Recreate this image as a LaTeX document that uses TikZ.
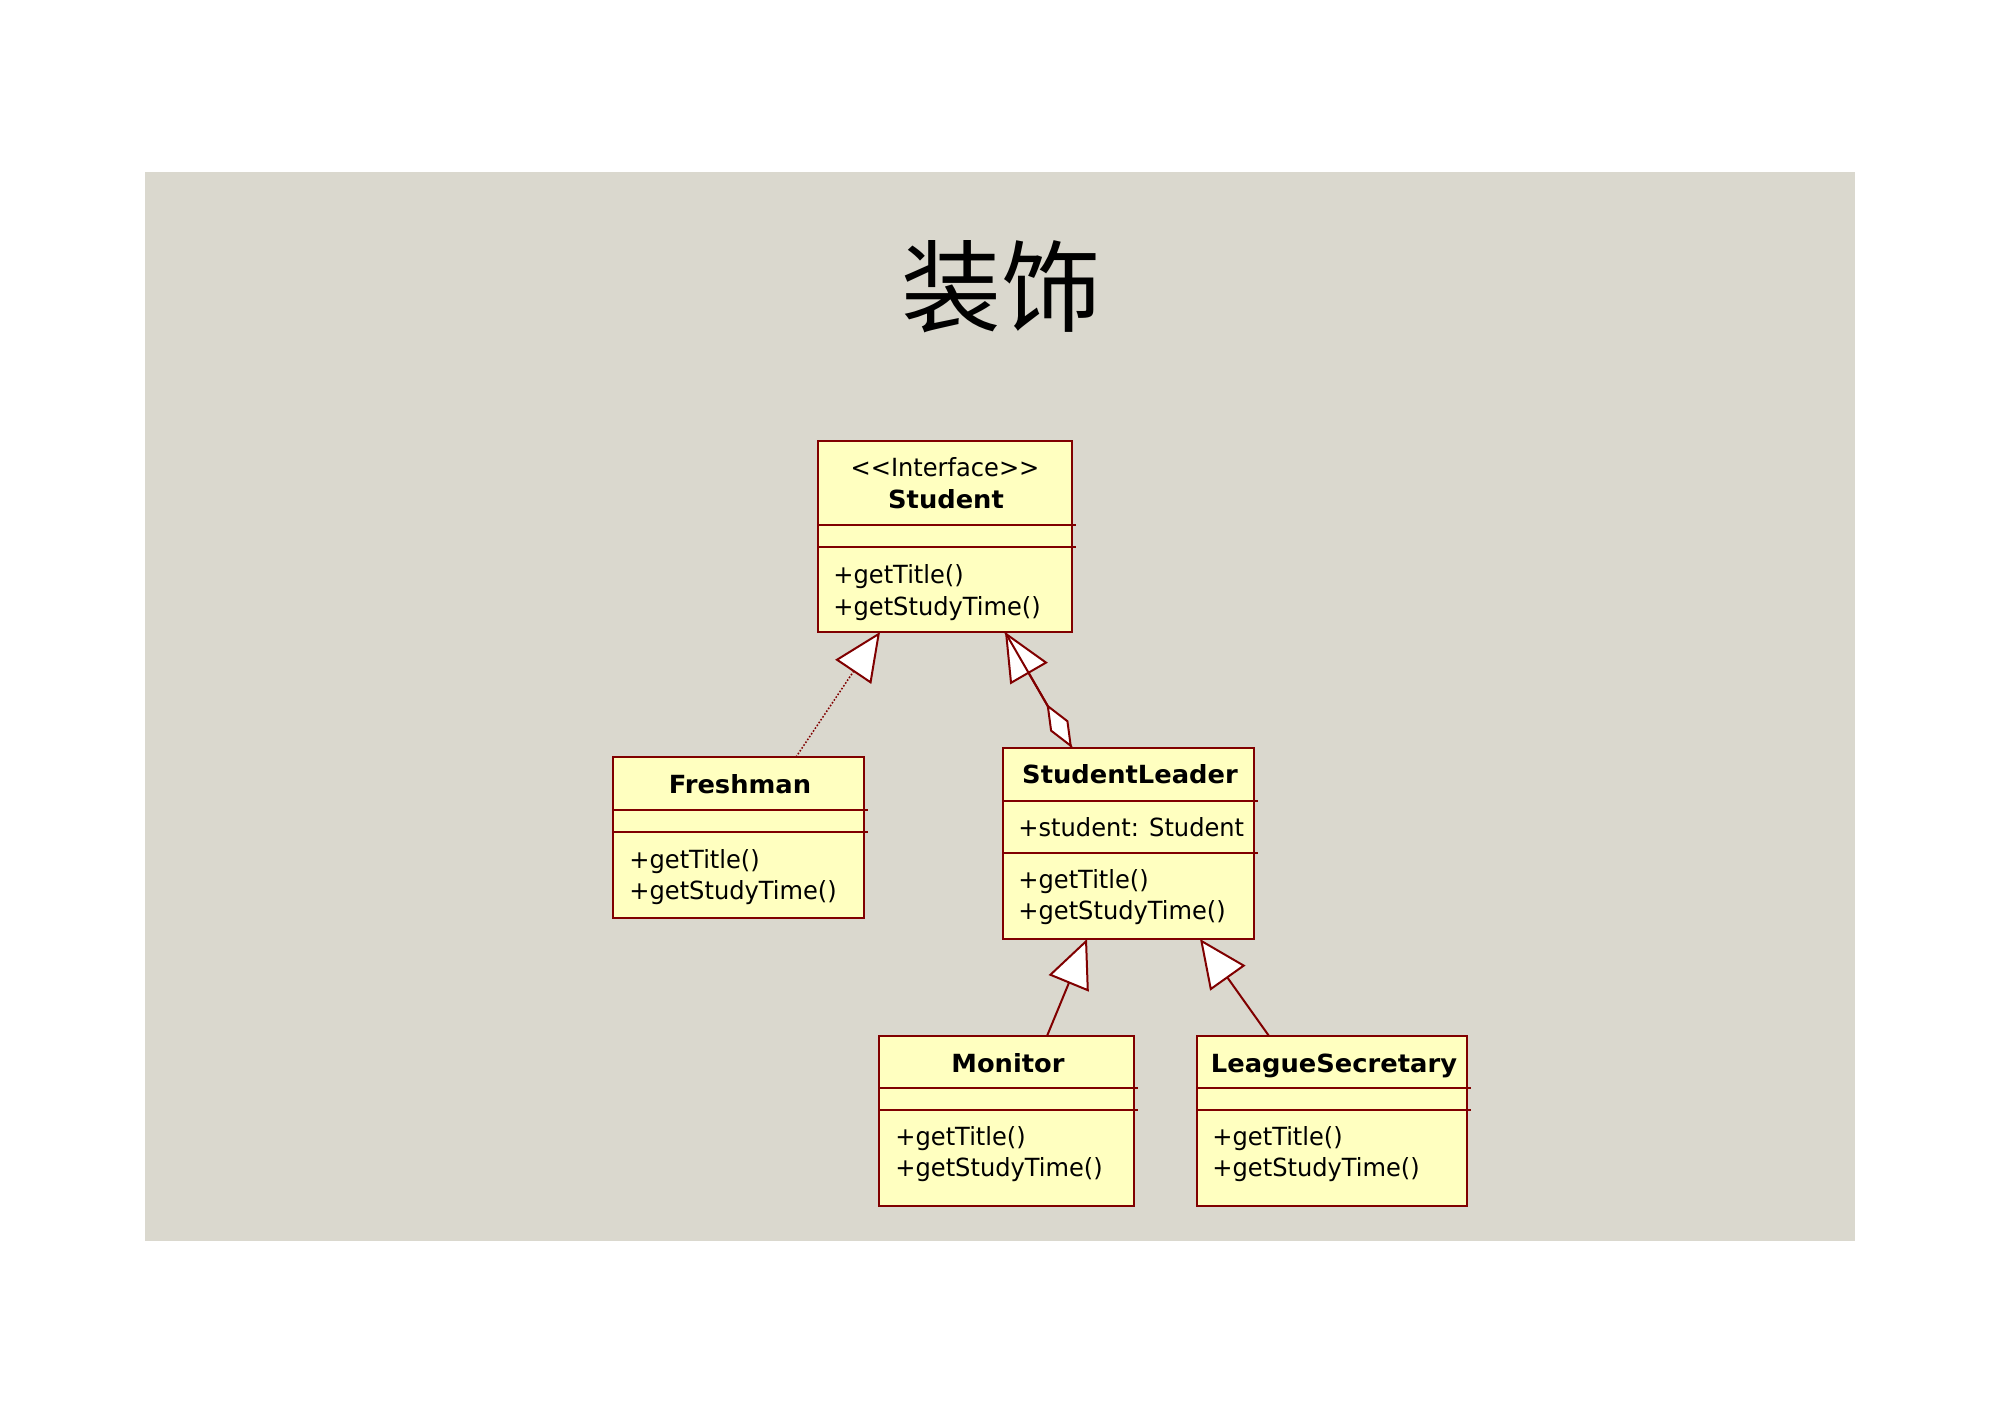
\documentclass[tikz,border=0pt]{standalone}
\usepackage{fontspec}
\newfontfamily\umlreg{DejaVu Sans}[FakeStretch=0.965]
\newfontfamily\umlbold{DejaVu Sans}[FakeStretch=1.03]
\newfontfamily\cjk{Noto Sans CJK SC}
\usetikzlibrary{arrows.meta,fit,calc}
\definecolor{umlred}{RGB}{128,0,0}
\definecolor{umlfill}{RGB}{255,255,192}
\definecolor{canvas}{RGB}{218,216,206}
\begin{document}
\begin{tikzpicture}[x=0.5pt,y=-0.5pt,
  classbox/.style={draw=umlred, fill=umlfill, line width=1.3pt, inner sep=0pt, outer sep=0pt},
  sepline/.style={draw=umlred, line width=1.2pt},
  ctitle/.style={anchor=base, inner sep=0pt, text=black, font=\umlbold\bfseries\fontsize{12.5pt}{15pt}\selectfont},
  cstereo/.style={anchor=base, inner sep=0pt, text=black, font=\umlreg\fontsize{12.5pt}{15pt}\selectfont},
  cmember/.style={anchor=base west, inner sep=0pt, text=black, font=\umlreg\fontsize{12.5pt}{15pt}\selectfont},
  rel/.style={draw=umlred, line width=1pt},
  gentip/.style={-{Triangle[fill=white, length=24pt, width=21.5pt, line width=1pt]}},
  gen/.style={rel, gentip},
  real/.style={draw=umlred, line width=0.75pt, dash pattern=on 0.8pt off 0.9pt, gentip},
  aggr/.style={rel, {Diamond[fill=white, length=25.5pt, width=10.5pt, line width=1pt]}-}
]
\useasboundingbox (0,0) rectangle (2000,1413);
\fill[white] (0,0) rectangle (2000,1413);
\fill[canvas] (145,172) rectangle (1855,1241);

% title
\node[anchor=base, inner sep=0pt, font=\cjk\fontsize{50pt}{60pt}\selectfont] (title) at (1001,324) {装饰};

% Student
\node[classbox, fit={(818,441) (1072,632)}] (student) {};
\draw[sepline] (818,525) -- (1076,525);
\draw[sepline] (818,547) -- (1076,547);
\node[cstereo] (stuS) at (945,476) {<\kern0pt<Interface>\kern0pt>};
\node[ctitle] (stuT) at (946,508) {Student};
\node[cmember] (stuM1) at (833,583) {+getTitle()};
\node[cmember] (stuM2) at (833,615) {+getStudyTime()};

% Freshman
\node[classbox, fit={(613,757) (864,918)}] (fresh) {};
\draw[sepline] (613,810) -- (868,810);
\draw[sepline] (613,832) -- (868,832);
\node[ctitle] (frT) at (740,793) {Freshman};
\node[cmember] (frM1) at (629,868) {+getTitle()};
\node[cmember] (frM2) at (629,899) {+getStudyTime()};

% StudentLeader
\node[classbox, fit={(1003,748) (1254,939)}] (leader) {};
\draw[sepline] (1003,801) -- (1258,801);
\draw[sepline] (1003,853) -- (1258,853);
\node[ctitle] (slT) at (1130,783) {StudentLeader};
\node[cmember] (slA) at (1018,836) {+student: Student};
\node[cmember] (slM1) at (1018,888) {+getTitle()};
\node[cmember] (slM2) at (1018,919) {+getStudyTime()};

% Monitor
\node[classbox, fit={(879,1036) (1134,1206)}] (monitor) {};
\draw[sepline] (879,1088) -- (1138,1088);
\draw[sepline] (879,1110) -- (1138,1110);
\node[ctitle] (moT) at (1008,1072) {Monitor};
\node[cmember] (moM1) at (895,1145) {+getTitle()};
\node[cmember] (moM2) at (895,1176) {+getStudyTime()};

% LeagueSecretary
\node[classbox, fit={(1197,1036) (1467,1206)}] (league) {};
\draw[sepline] (1197,1088) -- (1471,1088);
\draw[sepline] (1197,1110) -- (1471,1110);
\node[ctitle] (lsT) at (1334,1072) {LeagueSecretary};
\node[cmember] (lsM1) at (1212,1145) {+getTitle()};
\node[cmember] (lsM2) at (1212,1176) {+getStudyTime()};

% connectors
\draw[real] ($(fresh.north west)+(183,0)$) -- ($(student.south west)+(62,0)$);
\draw[gen] ($(leader.north west)+(69,0)$) -- ($(student.south west)+(187,0)$);
\draw[aggr] ($(leader.north west)+(69,0)$) -- ($(student.south west)+(187,0)$);
\draw[gen] ($(monitor.north west)+(168,0)$) -- ($(leader.south west)+(84,0)$);
\draw[gen] ($(league.north west)+(72,0)$) -- ($(leader.south west)+(197,0)$);
\end{tikzpicture}
\end{document}
